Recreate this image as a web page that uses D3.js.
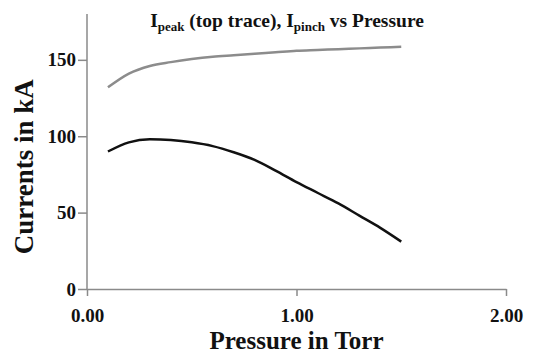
<!DOCTYPE html>
<html lang="en">
<head>
    <meta charset="UTF-8">
    <title>Ipeak, Ipinch vs Pressure</title>
    <script src="https://d3js.org/d3.v7.min.js"></script>
    <style>
        body { margin: 0; background: #fff; }
        text { font-family: "Liberation Serif", "Times New Roman", serif; font-weight: bold; fill: #111; }
        .axis path, .axis line { stroke: #8a8a8a; stroke-width: 1.5; }
    </style>
</head>
<body>
<div id="chart"></div>
<script>
    // data
    const pressure = [0.1, 0.2, 0.3, 0.4, 0.5, 0.6, 0.7, 0.8, 0.9, 1.0, 1.1, 1.2, 1.3, 1.4, 1.5];
    const iPeak = [132, 141, 146, 148.5, 150.5, 152, 153, 154, 155, 156, 156.5, 157, 157.5, 158, 158.5];
    const iPinch = [90, 96, 98, 97.5, 96, 93.5, 89.5, 84.5, 77.5, 70, 63, 56, 48, 40, 31];
    const xTicks = [0, 1, 2];
    const yTicks = [0, 50, 100, 150];

    const width = 544, height = 356;
    const margin = { top: 14, right: 38, bottom: 67, left: 87 };

    const svg = d3.select("#chart").append("svg")
        .attr("width", width)
        .attr("height", height);

    const x = d3.scaleLinear().domain([0, 2]).range([margin.left, width - margin.right]);
    const y = d3.scaleLinear().domain([0, 180]).range([height - margin.bottom, margin.top]);

    // axes
    const xAxis = svg.append("g")
        .attr("class", "axis")
        .attr("transform", `translate(0,${y(0)})`)
        .call(d3.axisBottom(x).tickValues(xTicks).tickFormat(d3.format(".2f")).tickSize(7).tickSizeOuter(0));
    xAxis.selectAll("text").attr("font-size", 19).attr("dy", "1.2em");

    const yAxis = svg.append("g")
        .attr("class", "axis")
        .attr("transform", `translate(${x(0)},0)`)
        .call(d3.axisLeft(y).tickValues(yTicks).tickSize(9).tickPadding(2).tickSizeOuter(0));
    yAxis.selectAll("text").attr("font-size", 19);
    yAxis.select(".domain").attr("d", `M0,${y(180)}V${y(0)}`);

    // lines
    const line = vals => d3.line()
        .x((d, i) => x(pressure[i]))
        .y(d => y(d))
        .curve(d3.curveMonotoneX)(vals);

    svg.append("path")
        .attr("d", line(iPeak))
        .attr("fill", "none")
        .attr("stroke", "#8c8c8c")
        .attr("stroke-width", 2.5);

    svg.append("path")
        .attr("d", line(iPinch))
        .attr("fill", "none")
        .attr("stroke", "#111")
        .attr("stroke-width", 2.5);

    // title with subscripts
    const title = svg.append("text")
        .attr("x", 287)
        .attr("y", 27)
        .attr("text-anchor", "middle")
        .attr("font-size", 19.5);
    title.append("tspan").text("I");
    title.append("tspan").attr("font-size", 13).attr("dy", 4).text("peak");
    title.append("tspan").attr("dy", -4).text(" (top trace), I");
    title.append("tspan").attr("font-size", 13).attr("dy", 4).text("pinch");
    title.append("tspan").attr("dy", -4).text(" vs Pressure");

    // axis titles
    svg.append("text")
        .attr("x", x(1))
        .attr("y", 349)
        .attr("text-anchor", "middle")
        .attr("font-size", 25)
        .text("Pressure in Torr");

    svg.append("text")
        .attr("transform", `translate(33,${y(80)}) rotate(-90)`)
        .attr("text-anchor", "middle")
        .attr("font-size", 27)
        .text("Currents in kA");
</script>
</body>
</html>
